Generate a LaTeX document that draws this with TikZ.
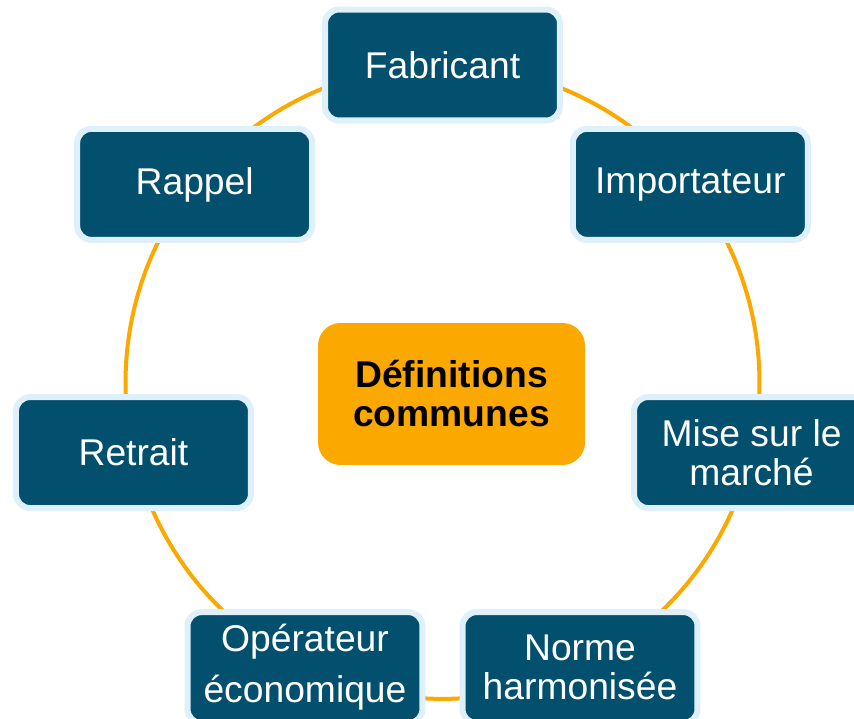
\documentclass[tikz,border=0pt]{standalone}
\usepackage{fontspec}
\setmainfont{Liberation Sans}
\usetikzlibrary{backgrounds}
\definecolor{bleufonce}{RGB}{2,80,110}
\definecolor{bleuclair}{RGB}{221,240,252}
\definecolor{orange}{RGB}{251,168,0}
\begin{document}
\begin{tikzpicture}[x=0.02cm, y=0.02cm]
\tikzset{boite/.style={draw=bleuclair, line width=0.12cm, fill=bleufonce, rounded corners=0.28cm, minimum width=4.7cm, minimum height=2.22cm, align=center, text=white, font=\fontsize{21.2}{22.2}\selectfont}}
\tikzset{centre/.style={fill=orange, rounded corners=0.45cm, minimum width=5.34cm, minimum height=2.84cm, align=center, text=black, font=\fontsize{21.2}{22.2}\selectfont\bfseries}}
\tikzset{anneau/.style={draw=orange, line width=0.08cm, looseness=0.896}}
\useasboundingbox (0, 0) rectangle (854, 718);
\clip (0, 0) rectangle (854, 718);
\begin{scope}[shift={(442.5, 336)}]
\node[boite] (V1) at (90:317) {Fabricant};
\node[boite] (V2) at (38.57:317) {Importateur};
\node[boite] (V3) at (-12.86:317) {Mise sur le\\march\'e};
\node[boite] (V4) at (-64.29:317) {Norme\\harmonis\'ee};
\node[boite] (V5) at (-115.71:317) {Op\'erateur\\[0.24cm]\'economique};
\node[boite] (V6) at (-167.14:317) {Retrait};
\node[boite] (V7) at (141.43:317) {Rappel};
\end{scope}
\node[centre] (C) at (451.5, 324) {D\'efinitions\\communes};
\begin{scope}[on background layer]
\draw[anneau] (V1.center) to[out=0, in=128.57] (V2.center);
\draw[anneau] (V2.center) to[out=-51.43, in=77.14] (V3.center);
\draw[anneau] (V3.center) to[out=-102.86, in=25.71] (V4.center);
\draw[anneau] (V4.center) to[out=-154.29, in=-25.71] (V5.center);
\draw[anneau] (V5.center) to[out=154.29, in=-77.14] (V6.center);
\draw[anneau] (V6.center) to[out=102.86, in=-128.57] (V7.center);
\draw[anneau] (V7.center) to[out=51.43, in=180] (V1.center);
\end{scope}
\end{tikzpicture}
\end{document}
